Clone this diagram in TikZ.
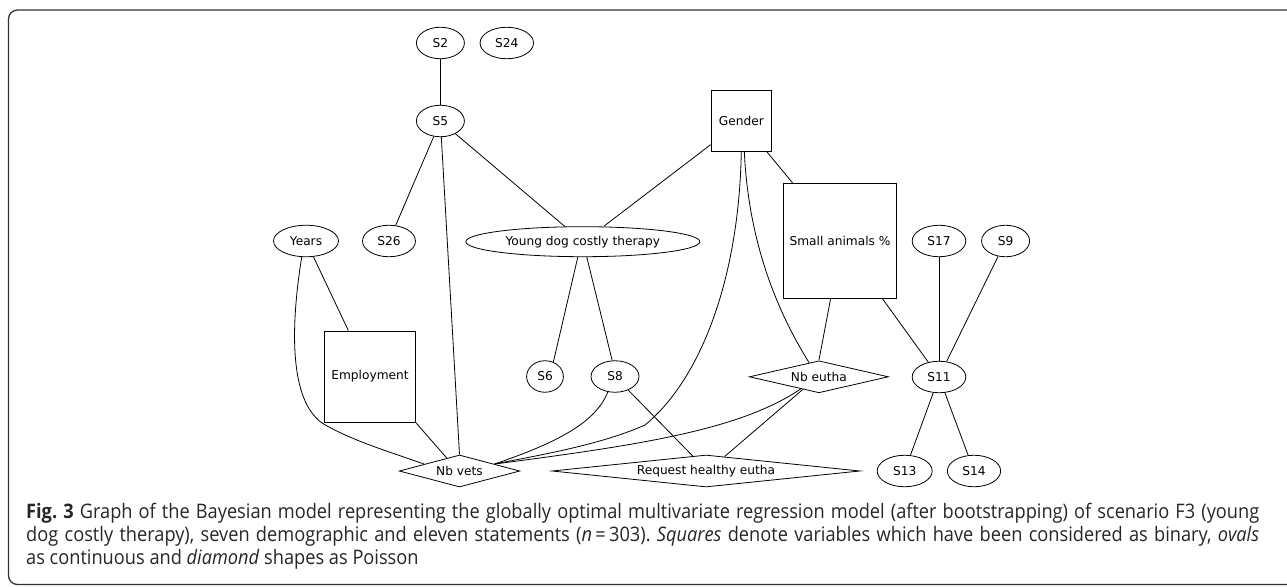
\documentclass[tikz,border=0pt]{standalone}
\usepackage{fontspec}
\setmainfont{DejaVu Sans}
\newfontfamily\capfont[FakeStretch=0.91]{Open Sans}
\usetikzlibrary{shapes.geometric,calc}
\begin{document}
\begin{tikzpicture}[x=1pt,y=-1pt,
  every node/.style={font=\fontsize{12.2}{13}\selectfont, text=black, inner sep=0pt},
  ov/.style={ellipse, draw, line width=0.8pt, minimum height=31.5pt},
  sq/.style={rectangle, draw, line width=0.8pt},
  dm/.style={diamond, draw, line width=0.8pt, minimum height=32pt},
  edge/.style={draw, line width=0.8pt},
  capline/.style={anchor=base west, font=\capfont\fontsize{20}{23}\selectfont\frenchspacing, text=black!85}]
\useasboundingbox (0,0) rectangle (1287,586);
\draw[line width=1.3pt, black!80, rounded corners=9pt] (8.5,10) rectangle (1310,584.5);

% nodes
\node[ov, minimum width=48pt] (S2) at (440.4,43) {S2};
\node[ov, minimum width=53.5pt] (S24) at (506.8,43) {S24};
\node[ov, minimum width=48pt] (S5) at (440.4,121) {S5};
\node[sq, minimum width=60.6pt, minimum height=60.6pt] (Gender) at (741.3,121) {Gender};
\node[ov, minimum width=65pt] (Years) at (306,241) {Years};
\node[ov, minimum width=53pt] (S26) at (389,241) {S26};
\node[ov, minimum width=234pt, minimum height=30pt] (YD) at (582.8,241.7) {Young dog costly therapy};
\node[sq, minimum width=113.5pt, minimum height=115pt] (SA) at (840,240.8) {Small animals \%};
\node[ov, minimum width=53.6pt] (S17) at (939,241) {S17};
\node[ov, minimum width=48pt] (S9) at (1005.6,241) {S9};
\node[sq, minimum width=90.5pt, minimum height=91pt] (Emp) at (370,376.5) {Employment};
\node[ov, minimum width=36.8pt] (S6) at (545,376.5) {S6};
\node[ov, minimum width=48pt] (S8) at (615,376.5) {S8};
\node[dm, minimum width=139pt, aspect=4.34] (NbE) at (818.9,376.8) {Nb eutha};
\node[ov, minimum width=53.6pt] (S11) at (939,377) {S11};
\node[dm, minimum width=120.6pt, aspect=3.77] (NbV) at (459.5,471) {Nb vets};
\node[dm, minimum width=308pt, aspect=9.6] (Req) at (706,471) {Request healthy eutha};
\node[ov, minimum width=55pt] (S13) at (904.7,471) {S13};
\node[ov, minimum width=53.3pt] (S14) at (974,471) {S14};

% edges
\path[edge] (S2) -- (S5);
\path[edge] (S5) -- (S26);
\path[edge] (S5) -- (YD);
\path[edge] (S5) -- (NbV.north);
\path[edge] ($(Gender.south west)+(0,-7)$) -- ($(YD.north)+(21,0)$);
\path[edge] ($(Gender.south)+(25.5,0)$) -- ($(SA.north west)+(9.7,0)$);
\path[edge] (Gender.south) .. controls (739,280) and (700,380) .. (645,425)
   .. controls (600,445) and (540,455) .. ($(NbV.north)!0.575!(NbV.east)$);
\path[edge] ($(Gender.south)+(3,0)$) .. controls (748,230) and (770,300) .. ($(NbE.north)!0.14!(NbE.west)$);
\path[edge] ($(SA.south)+(-9.4,0)$) -- (NbE.north);
\path[edge] ($(SA.south east)+(-14.7,0)$) -- (S11);
\path[edge] (S17) -- (S11);
\path[edge] (S9) -- (S11);
\path[edge] (S11) -- (S13);
\path[edge] (S11) -- (S14);
\path[edge] ($(NbE.south)!0.23!(NbE.west)$) -- ($(Req.north)!0.12!(Req.east)$);
\path[edge] ($(NbE.south)!0.26!(NbE.west)$) .. controls (740,430) and (640,445) .. ($(NbV.north)!0.575!(NbV.east)$);
\path[edge] (S8.245) .. controls (595,425) and (550,445) .. ($(NbV.north)!0.575!(NbV.east)$);
\path[edge] (S8) -- ($(Req.north)!0.086!(Req.west)$);
\path[edge] (Years) -- ($(Emp.north west)+(24,0)$);
\path[edge] (Years.255) .. controls (290,330) and (290,400) .. (322,423)
   .. controls (350,440) and (390,452) .. ($(NbV.north)!0.58!(NbV.west)$);
\path[edge] (Emp.south east) -- ($(NbV.north)!0.21!(NbV.west)$);
\path[edge] ($(YD.south)+(-5,0)$) -- (S6.60);
\path[edge] ($(YD.south)+(4,0)$) -- (S8.100);

% caption
\node[capline] (cap1) at (26,518) {\makebox[1233pt][s]{\textbf{Fig. 3} Graph of the Bayesian model representing the globally optimal multivariate regression model (after bootstrapping) of scenario F3 (young}};
\node[capline] (cap2) at (26,541) {\makebox[1233pt][s]{dog costly therapy), seven demographic and eleven statements (\textit{n}\,=\,303). \textit{Squares} denote variables which have been considered as binary, \textit{ovals}}};
\node[capline] (cap3) at (26,564) {as continuous and \textit{diamond} shapes as Poisson};
\end{tikzpicture}
\end{document}
